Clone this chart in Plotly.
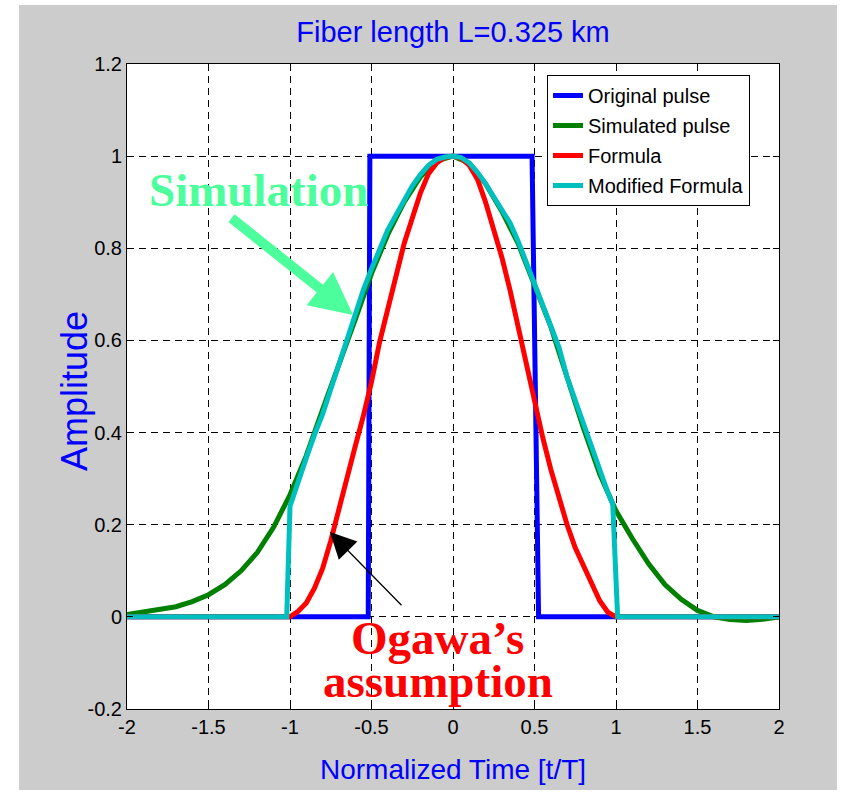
import plotly.graph_objects as go

# ---------------- data ----------------
orig_t = [-2.0, -0.52, -0.51, 0.485, 0.525, 2.0]
orig_amp = [0.0, 0.0, 1.0, 1.0, 0.0, 0.0]

sim_t = [-2.0, -1.9, -1.8, -1.7, -1.6, -1.5, -1.4, -1.3, -1.2, -1.1, -1.0,
         -0.9, -0.8, -0.7, -0.6, -0.5, -0.4, -0.3, -0.2, -0.1, 0.0,
         0.1, 0.2, 0.3, 0.4, 0.5, 0.6, 0.7, 0.8, 0.9, 1.0,
         1.1, 1.2, 1.3, 1.4, 1.5, 1.6, 1.7, 1.8, 1.9, 2.0]
sim_amp = [0.005, 0.01, 0.015, 0.022, 0.033, 0.048, 0.07, 0.10, 0.14, 0.195, 0.265,
           0.35, 0.45, 0.545, 0.645, 0.745, 0.83, 0.9, 0.955, 0.99, 1.0,
           0.985, 0.94, 0.88, 0.81, 0.72, 0.63, 0.52, 0.41, 0.31, 0.23,
           0.17, 0.115, 0.07, 0.038, 0.014, 0.0, -0.006, -0.008, -0.005, 0.0]

form_t = [-2.0, -1.0, -0.95, -0.9, -0.85, -0.8, -0.75, -0.7, -0.65, -0.6, -0.55,
          -0.5, -0.45, -0.4, -0.35, -0.3, -0.25, -0.2, -0.15, -0.1, -0.05, 0.0,
          0.05, 0.1, 0.15, 0.2, 0.25, 0.3, 0.35, 0.4, 0.45, 0.5,
          0.55, 0.6, 0.65, 0.7, 0.75, 0.8, 0.85, 0.9, 0.95, 1.0, 2.0]
form_amp = [0.0, 0.0, 0.012, 0.03, 0.062, 0.105, 0.165, 0.23, 0.30, 0.37, 0.436,
            0.51, 0.597, 0.668, 0.74, 0.81, 0.865, 0.92, 0.962, 0.985, 0.997, 1.0,
            0.995, 0.98, 0.95, 0.90, 0.84, 0.78, 0.709, 0.63, 0.55, 0.465,
            0.39, 0.32, 0.255, 0.2, 0.15, 0.11, 0.07, 0.035, 0.01, 0.0, 0.0]

mod_t = [-2.0, -1.02, -1.0, -0.95, -0.9, -0.85, -0.8, -0.75, -0.7, -0.65, -0.6, -0.55,
         -0.5, -0.45, -0.4, -0.35, -0.3, -0.25, -0.2, -0.15, -0.1, -0.05, 0.0,
         0.05, 0.1, 0.15, 0.2, 0.25, 0.3, 0.35, 0.4, 0.45, 0.5,
         0.55, 0.6, 0.65, 0.7, 0.75, 0.8, 0.85, 0.9, 0.95, 0.98, 1.01, 2.0]
mod_amp = [0.0, 0.0, 0.24, 0.295, 0.345, 0.395, 0.44, 0.494, 0.548, 0.60, 0.655, 0.71,
           0.755, 0.80, 0.84, 0.872, 0.905, 0.935, 0.96, 0.98, 0.993, 0.998, 1.0,
           0.997, 0.985, 0.965, 0.94, 0.91, 0.885, 0.855, 0.815, 0.77, 0.72,
           0.675, 0.635, 0.585, 0.52, 0.47, 0.413, 0.365, 0.315, 0.27, 0.245, 0.0, 0.0]

x_tickvals = [-2, -1.5, -1, -0.5, 0, 0.5, 1, 1.5, 2]
x_ticktext = ["-2", "-1.5", "-1", "-0.5", "0", "0.5", "1", "1.5", "2"]
y_tickvals = [-0.2, 0, 0.2, 0.4, 0.6, 0.8, 1.0, 1.2]
y_ticktext = ["-0.2", "0", "0.2", "0.4", "0.6", "0.8", "1", "1.2"]

series_names = ["Original pulse", "Simulated pulse", "Formula", "Modified Formula"]
series_colors = ["#0000ff", "#008000", "#ff0000", "#00bfbf"]

# ---------------- figure ----------------
SANS = "Liberation Sans, Arial, sans-serif"
SERIF = "Liberation Serif, Times New Roman, serif"

fig = go.Figure()
for i, ((t, a), name, col) in enumerate(zip(
        [(orig_t, orig_amp), (sim_t, sim_amp), (form_t, form_amp), (mod_t, mod_amp)],
        series_names, series_colors)):
    fig.add_trace(go.Scatter(x=t, y=a, mode="lines", name=name, legendgroup=f"g{i}",
                             line=dict(color=col, width=5)))

L, R, T, B = 127, 72, 64, 85
W, H = 851, 794
pw, ph = W - L - R, H - T - B

def px2paper_x(px):
    return (px - L) / pw

def py2paper_y(py):
    return (H - B - py) / ph

axis_common = dict(
    showline=True, linecolor="black", linewidth=1, mirror="ticks",
    ticks="inside", ticklen=6, tickcolor="black", tickwidth=1,
    showgrid=True, gridcolor="black", gridwidth=1, griddash="7px,5px",
    zeroline=False, tickfont=dict(family=SANS, size=20, color="black"),
)

fig.update_layout(
    width=W, height=H,
    margin=dict(l=L, r=R, t=T, b=B),
    paper_bgcolor="#cccccc", plot_bgcolor="white",
    showlegend=True,
    title=dict(text="Fiber length L=0.325 km", x=0.5, xanchor="center",
               xref="paper", y=1 - 32 / H, yanchor="middle",
               font=dict(family=SANS, size=29, color="#0000ff")),
    xaxis=dict(range=[-2, 2], tickvals=x_tickvals, ticktext=x_ticktext, **axis_common),
    yaxis=dict(range=[-0.2, 1.2], tickvals=y_tickvals, ticktext=y_ticktext, **axis_common),
    legend=dict(x=px2paper_x(547), y=py2paper_y(75), xanchor="left", yanchor="top",
                bgcolor="white", bordercolor="black", borderwidth=1,
                tracegroupgap=1, traceorder="grouped",
                font=dict(family=SANS, size=20, color="black")),
)

# axis titles
fig.add_annotation(text="Normalized Time [t/T]", xref="paper", yref="paper",
                   x=px2paper_x(453), y=py2paper_y(770), xanchor="center", yanchor="middle",
                   showarrow=False, font=dict(family=SANS, size=28, color="#0000ff"))
fig.add_annotation(text="Amplitude", xref="paper", yref="paper",
                   x=px2paper_x(75), y=py2paper_y(391), xanchor="center", yanchor="middle",
                   textangle=-90, showarrow=False,
                   font=dict(family=SANS, size=36, color="#0000ff"))

# text annotations
fig.add_annotation(text="<b>Simulation</b>", x=-1.196, y=0.926, xref="x", yref="y",
                   showarrow=False, font=dict(family=SERIF, size=47, color="#4dff9c"))
fig.add_annotation(text="", x=-0.613, y=0.655, ax=-1.368, ay=0.868,
                   xref="x", yref="y", axref="x", ayref="y",
                   showarrow=True, arrowhead=2, arrowwidth=10, arrowsize=0.85,
                   arrowcolor="#4dff9c")
fig.add_annotation(text="<b>Ogawa\u2019s</b>", x=-0.098, y=-0.045, xref="x", yref="y",
                   showarrow=False, font=dict(family=SERIF, size=47, color="#ff0000"))
fig.add_annotation(text="<b>assumption</b>", x=-0.095, y=-0.14, xref="x", yref="y",
                   showarrow=False, font=dict(family=SERIF, size=47, color="#ff0000"))
fig.add_annotation(text="", x=-0.755, y=0.184, ax=-0.307, ay=0.022,
                   xref="x", yref="y", axref="x", ayref="y",
                   showarrow=True, arrowhead=2, arrowwidth=1.3, arrowsize=4,
                   arrowcolor="black")

# white border strips around the gray figure
for x0, x1, y0, y1 in [(-0.3, px2paper_x(19), -0.3, 1.3),
                       (px2paper_x(837), 1.3, -0.3, 1.3),
                       (-0.3, 1.3, py2paper_y(5), 1.3),
                       (-0.3, 1.3, -0.3, py2paper_y(790))]:
    fig.add_shape(type="rect", xref="paper", yref="paper", x0=x0, x1=x1, y0=y0, y1=y1,
                  fillcolor="white", line=dict(width=0), layer="above")

fig.write_html("out.html")
